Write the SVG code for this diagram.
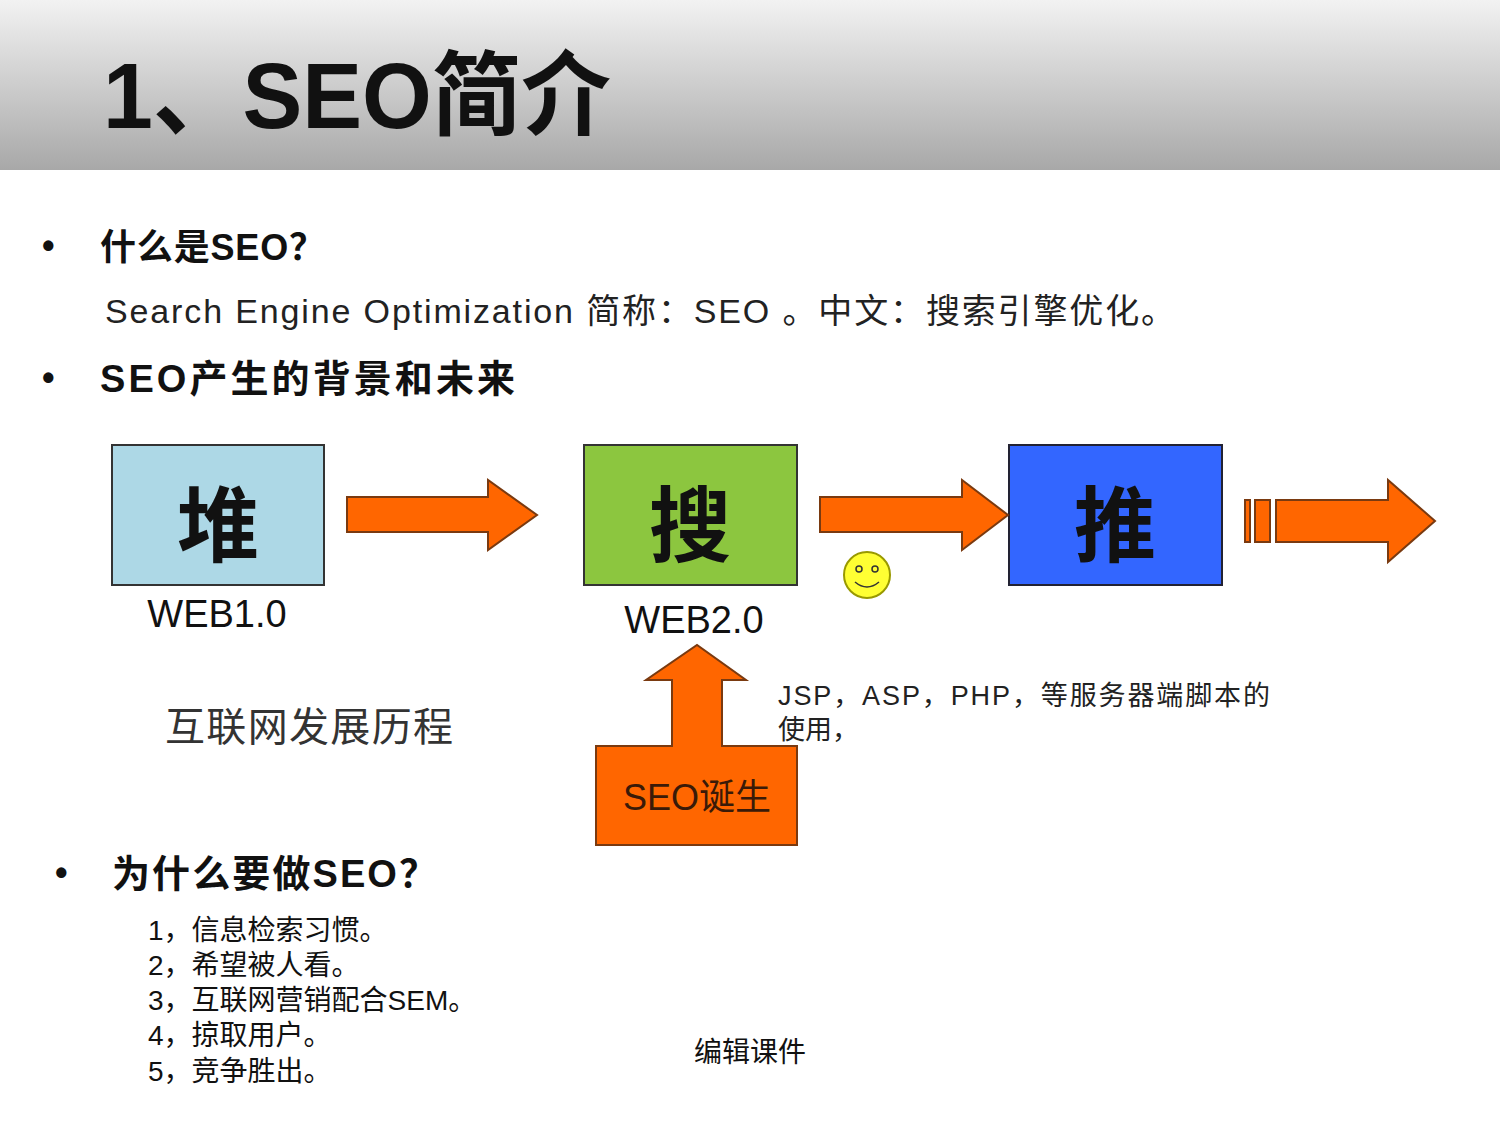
<svg xmlns="http://www.w3.org/2000/svg" width="1500" height="1125" viewBox="0 0 1500 1125">
<defs>
<linearGradient id="hdr" x1="0" y1="0" x2="0" y2="1"><stop offset="0" stop-color="#f2f2f2"/><stop offset="1" stop-color="#a8a8a8"/></linearGradient>
<style>
.s{font-family:"Liberation Sans","Noto Sans CJK SC",sans-serif}
.b{font-weight:bold}
.arr{fill:#ff6600;stroke:#7a3a10;stroke-width:2}
.box{stroke:#333;stroke-width:2}
</style>
</defs>
<rect width="1500" height="1125" fill="#fff"/>
<rect width="1500" height="170" fill="url(#hdr)"/>
<text x="103" y="128" class="s b" font-size="92" fill="#111" textLength="508" lengthAdjust="spacingAndGlyphs">1、SEO简介</text>
<text x="42" y="258" class="s b" font-size="36" fill="#111">•</text>
<text x="100" y="260" class="s b" font-size="36" fill="#111" textLength="225">什么是SEO？</text>
<text x="105" y="323" class="s" font-size="34" fill="#222" textLength="1070">Search Engine Optimization 简称：SEO 。中文：搜索引擎优化。</text>
<text x="42" y="390" class="s b" font-size="36" fill="#111">•</text>
<text x="100" y="392" class="s b" font-size="38" fill="#111" textLength="415">SEO产生的背景和未来</text>
<g id="web1"><rect x="112" y="445" width="212" height="140" fill="#add8e6" class="box"/>
<text x="218" y="555" text-anchor="middle" class="s b" font-size="82" fill="#111">堆</text>
<text x="217" y="627" text-anchor="middle" class="s" font-size="38" fill="#111">WEB1.0</text></g>
<g id="web2"><rect x="584" y="445" width="213" height="140" fill="#8cc63f" class="box"/>
<text x="690" y="555" text-anchor="middle" class="s b" font-size="82" fill="#111">搜</text>
<text x="694" y="633" text-anchor="middle" class="s" font-size="38" fill="#111">WEB2.0</text></g>
<g id="push"><rect x="1009" y="445" width="213" height="140" fill="#3366ff" stroke="#223" stroke-width="2"/>
<text x="1115" y="555" text-anchor="middle" class="s b" font-size="82" fill="#111">推</text></g>
<g id="connectors">
<polygon class="arr" points="347,497 488,497 488,480 537,515 488,550 488,532 347,532"/>
<polygon class="arr" points="820,497 962,497 962,480 1008,515 962,550 962,532 820,532"/>
<rect class="arr" x="1245" y="500" width="5" height="42"/>
<rect class="arr" x="1255" y="500" width="15" height="42"/>
<polygon class="arr" points="1276,500 1388,500 1388,480 1435,521 1388,562 1388,542 1276,542"/>
</g>
<g id="smiley"><circle cx="867" cy="575" r="23" fill="#ffff33" stroke="#999900" stroke-width="2"/>
<circle cx="859" cy="569" r="3" fill="none" stroke="#333" stroke-width="1.5"/><circle cx="875" cy="569" r="3" fill="none" stroke="#333" stroke-width="1.5"/>
<path d="M855,582 Q867,592 879,582" fill="none" stroke="#333" stroke-width="1.5"/></g>
<g id="seo-birth"><polygon class="arr" points="596,746 672,746 672,680 646,680 697,645 746,680 722,680 722,746 797,746 797,845 596,845"/>
<text x="697" y="810" text-anchor="middle" class="s" font-size="36" fill="#3a1a08">SEO诞生</text></g>
<text x="778" y="705" class="s" font-size="27" fill="#222" textLength="492">JSP，ASP，PHP，等服务器端脚本的</text>
<text x="778" y="739" class="s" font-size="27" fill="#222">使用，</text>
<text x="165" y="741" font-family="'Noto Sans CJK SC',serif" font-size="40" fill="#333" textLength="288">互联网发展历程</text>
<text x="55" y="885" class="s b" font-size="36" fill="#111">•</text>
<text x="112" y="887" class="s b" font-size="38" fill="#111" textLength="325">为什么要做SEO？</text>
<g class="s" font-size="28" fill="#111">
<text x="148" y="940">1，信息检索习惯。</text>
<text x="148" y="975">2，希望被人看。</text>
<text x="148" y="1010">3，互联网营销配合SEM。</text>
<text x="148" y="1045">4，掠取用户。</text>
<text x="148" y="1081">5，竞争胜出。</text>
</g>
<text x="750" y="1062" text-anchor="middle" font-family="'Noto Sans CJK SC',serif" font-size="28" fill="#111">编辑课件</text>
</svg>
